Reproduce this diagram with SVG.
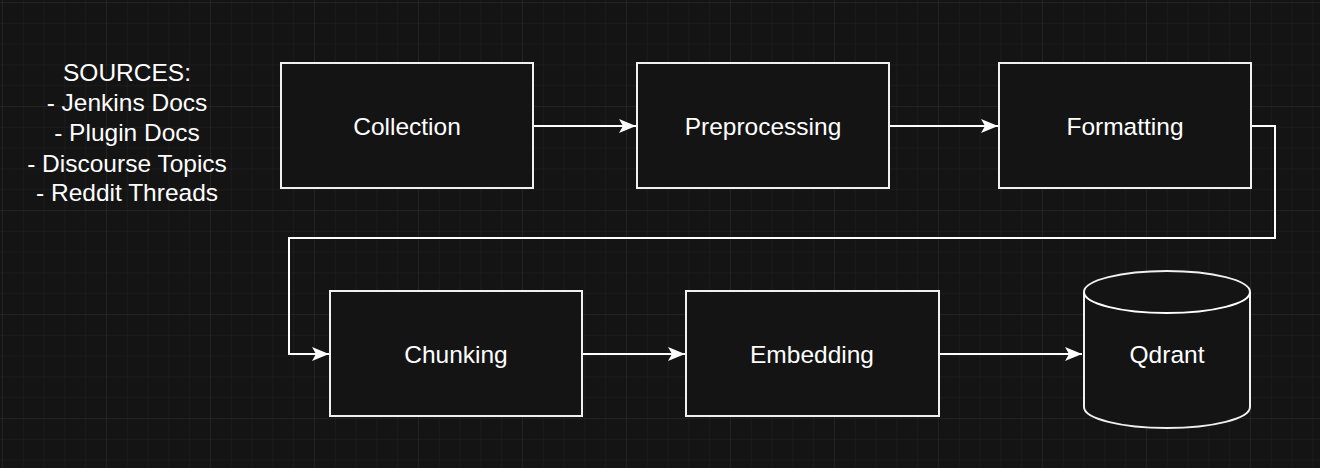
<svg xmlns="http://www.w3.org/2000/svg" width="1320" height="468" viewBox="0 0 1320 468">
<style>
.n{fill:#141414;stroke:#f0f0f0;stroke-width:2}
.t{font-family:"Liberation Sans",Arial,sans-serif;font-size:24.5px;fill:#fff;text-anchor:middle;dominant-baseline:central}
.c{fill:none;stroke:#fff;stroke-width:2}
</style>
<defs>
<pattern id="g" width="20.8" height="20.8" patternUnits="userSpaceOnUse" x="2" y="2">
<path d="M0 0H20.8M0 0V20.8" stroke="#222" stroke-width="1" fill="none"/>
</pattern>
<pattern id="G" width="104" height="104" patternUnits="userSpaceOnUse" x="2" y="2">
<path d="M0 0H104M0 0V104" stroke="#2a2a2a" stroke-width="1" fill="none"/>
</pattern>
<marker id="a" markerWidth="18" markerHeight="16" refX="17" refY="8" orient="auto" markerUnits="userSpaceOnUse"><path d="M0 1L17 8L0 15L4 8Z" fill="#fff"/></marker>
</defs>
<rect width="1320" height="468" fill="#141414"/>
<rect width="1320" height="468" fill="url(#g)"/>
<rect width="1320" height="468" fill="url(#G)"/>
<g id="sources">
<text class="t" x="127" y="72">SOURCES:</text>
<text class="t" x="127" y="102">- Jenkins Docs</text>
<text class="t" x="127" y="132">- Plugin Docs</text>
<text class="t" x="127" y="163">- Discourse Topics</text>
<text class="t" x="127" y="192">- Reddit Threads</text>
</g>
<g id="connectors">
<path class="c" d="M533 126H636" marker-end="url(#a)"/>
<path class="c" d="M889 126H998" marker-end="url(#a)"/>
<path class="c" d="M1251 126H1275V238H289V354H329" marker-end="url(#a)"/>
<path class="c" d="M582 354H685" marker-end="url(#a)"/>
<path class="c" d="M939 354H1082" marker-end="url(#a)"/>
</g>
<g id="collection"><rect class="n" x="281" y="63" width="252" height="125"/><text class="t" x="407" y="126">Collection</text></g>
<g id="preprocessing"><rect class="n" x="637" y="63" width="252" height="125"/><text class="t" x="763" y="126">Preprocessing</text></g>
<g id="formatting"><rect class="n" x="999" y="63" width="252" height="125"/><text class="t" x="1125" y="126">Formatting</text></g>
<g id="chunking"><rect class="n" x="330" y="291" width="252" height="125"/><text class="t" x="456" y="354">Chunking</text></g>
<g id="embedding"><rect class="n" x="686" y="291" width="253" height="125"/><text class="t" x="812" y="354">Embedding</text></g>
<g id="qdrant">
<path class="n" stroke-width="3" d="M1084 292A83 21 0 0 1 1250 292V407A83 21 0 0 1 1084 407Z"/>
<path class="c" stroke-width="3" d="M1084 292A83 21 0 0 0 1250 292"/>
<text class="t" x="1167" y="354">Qdrant</text>
</g>
</svg>
